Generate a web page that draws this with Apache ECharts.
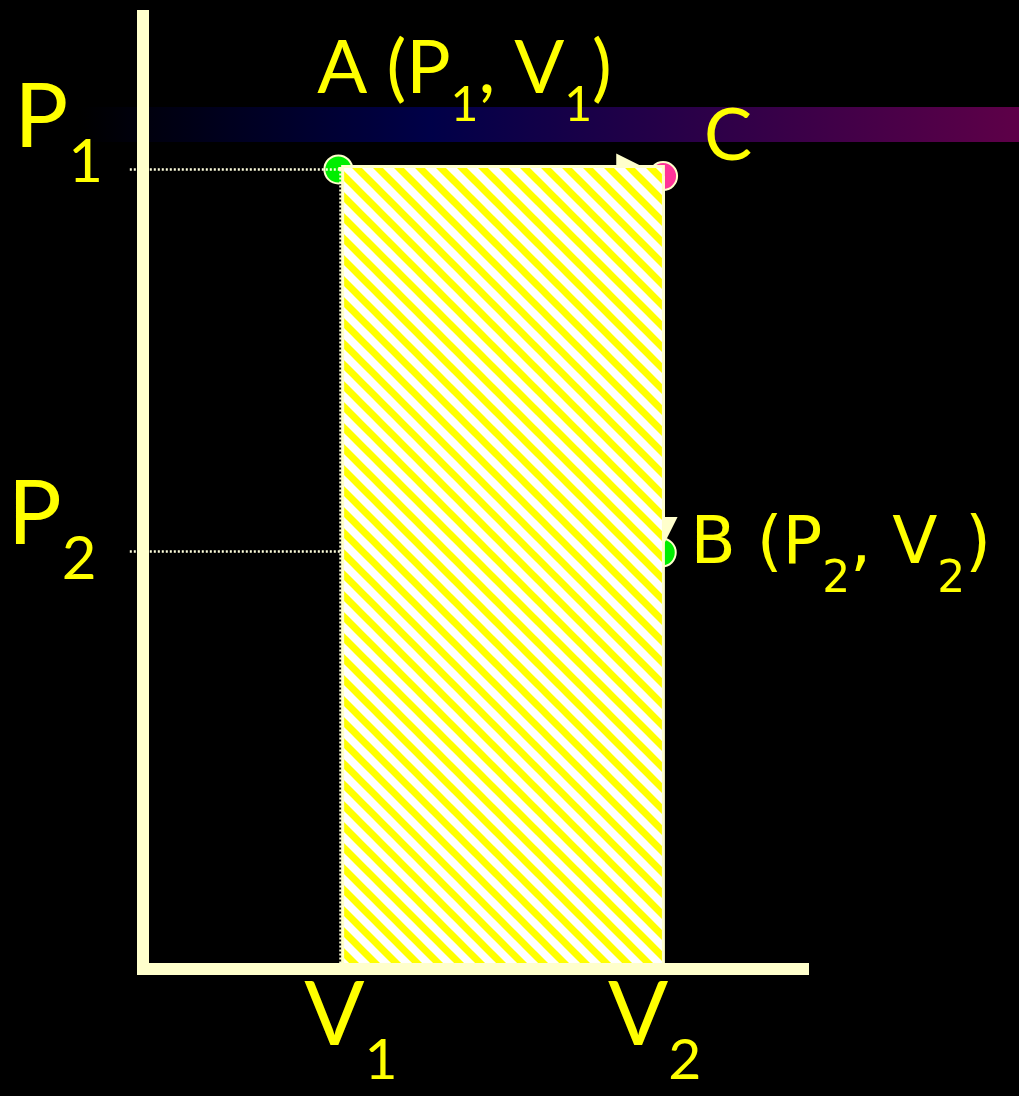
<!DOCTYPE html>
<html>
<head>
<meta charset="utf-8">
<style>
html, body { margin: 0; padding: 0; background: #000; }
#main { width: 1019px; height: 1096px; }
</style>
<script src="https://cdn.jsdelivr.net/npm/echarts@6/dist/echarts.min.js"></script>
</head>
<body>
<div id="main"></div>
<script>
// axis ticks: volume (V1, V2) and pressure (P1, P2)
var volTicks = [30, 78.8];
var volNames = ['V_1', 'V_2'];
var presTicks = [83.9, 43.8];
var presNames = ['P_1', 'P_2'];

// gas states
var pointNames = ['A (P_1, V_1)', 'C', 'B (P_2, V_2)'];
var pointV = [29.6, 78.8, 78.6];
var pointP = [83.9, 83.2, 43.7];

// hatched work area
var areaV = [30.25, 78.85];
var areaP = [0, 84.2];

// process arrows A -> C, C -> B
var arrowFrom = [[29.6, 84.05], [78.8, 83.2]];
var arrowTo = [[73.9, 84.05], [78.8, 45.9]];

// dotted guide lines
var guideFrom = [[-2, 83.9], [-2, 43.8], [29.85, 83.9]];
var guideTo = [[29.85, 83.9], [29.85, 43.8], [29.85, 0]];

var yellow = '#ffff00';
var cream = '#ffffcc';

// 'P_1' -> {km|P}{ks|1}
function richText(str, key) {
    var parts = str.split(/_(\d)/);
    var out = '';
    for (var i = 0; i < parts.length; i++) {
        if (!parts[i]) continue;
        out += '{' + key + (i % 2 ? 's' : 'm') + '|' + parts[i] + '}';
    }
    return out;
}
function txt(size, pad, font) {
    return {fontFamily: font || 'Lato', fontSize: size, lineHeight: size, color: yellow,
        verticalAlign: 'top', padding: pad || [0, 0, 0, 0]};
}
// empty token that only sets the height of the line
function spacer(h) {
    return {fontSize: 1, lineHeight: h, verticalAlign: 'top', color: 'transparent'};
}
function nearest(arr, v) {
    var best = 0;
    for (var i = 1; i < arr.length; i++) {
        if (Math.abs(arr[i] - v) < Math.abs(arr[best] - v)) best = i;
    }
    return best;
}

var rich = {
    am: txt(74), as: txt(48, [49, 0, 0, 0]),
    cm: txt(72),
    bm: txt(66, null, 'DejaVu Sans'), bs: txt(44, [45.6, 0, 0, 0], 'DejaVu Sans'),
    v0m: txt(89, [0, 0, 0, 20]), v0s: txt(57, [60.4, 0, 0, 0]),
    v1m: txt(89), v1s: txt(57, [60.4, 17, 0, 0]),
    p0x: spacer(192.4), p0m: txt(90), p0s: txt(60, [59.6, 0, 0, 0]),
    p1x: spacer(162.8), p1m: txt(90), p1s: txt(60, [59.6, 6.5, 0, 0])
};

// diagonal stripes for the work area
var stripes = document.createElement('canvas');
stripes.width = 21;
stripes.height = 21;
var g = stripes.getContext('2d');
g.fillStyle = '#ffffff';
g.fillRect(0, 0, 21, 21);
g.strokeStyle = yellow;
g.lineWidth = 7;
for (var c = -21; c <= 21; c += 21) {
    g.beginPath();
    g.moveTo(-21, c - 21);
    g.lineTo(42, c + 42);
    g.stroke();
}

var labelKeys = ['a', 'c', 'b'];
var labelOffsets = [[-21, -100], [41, -39], [28.7, -7]];
var pointColors = ['#00ee00', '#ff3399', '#00ee00'];

var chart = echarts.init(document.getElementById('main'));
chart.setOption({
    backgroundColor: '#000',
    animation: false,
    grid: {left: 143, right: 216, top: 16, bottom: 127, outerBoundsMode: 'none'},
    graphic: [{
        type: 'rect', z: 0, silent: true,
        shape: {x: 80, y: 107, width: 939, height: 35},
        style: {
            fill: new echarts.graphic.LinearGradient(0, 0, 1, 0, [
                {offset: 0, color: '#000000'},
                {offset: 0.373, color: '#000048'},
                {offset: 1, color: '#5e0048'}
            ])
        }
    }],
    xAxis: {
        type: 'value', min: 0, max: 100, z: 30,
        axisLine: {show: true, onZero: false, lineStyle: {color: cream, width: 12, cap: 'square'}},
        axisTick: {show: false},
        splitLine: {show: false},
        axisLabel: {
            customValues: volTicks, margin: 3, rich: rich,
            formatter: function (v) {
                var i = nearest(volTicks, v);
                return richText(volNames[i], 'v' + i);
            }
        }
    },
    yAxis: {
        type: 'value', min: 0, max: 100, z: 30,
        axisLine: {show: true, onZero: false, lineStyle: {color: cream, width: 12, cap: 'square'}},
        axisTick: {show: false},
        splitLine: {show: false},
        axisLabel: {
            customValues: presTicks, margin: 40, rich: rich,
            formatter: function (v) {
                var i = nearest(presTicks, v);
                return '{p' + i + 'x| }' + richText(presNames[i], 'p' + i);
            }
        }
    },
    series: [
        {
            type: 'scatter', z: 5, symbolSize: 28, silent: true,
            itemStyle: {borderColor: cream, borderWidth: 2, opacity: 1},
            label: {
                show: true, position: 'inside', align: 'left', verticalAlign: 'middle', rich: rich,
                formatter: function (p) {
                    return richText(pointNames[p.dataIndex], labelKeys[p.dataIndex]);
                }
            },
            data: pointV.map(function (v, i) {
                return {
                    value: [v, pointP[i]],
                    itemStyle: {color: pointColors[i]},
                    label: {offset: labelOffsets[i]}
                };
            })
        },
        {
            type: 'lines', coordinateSystem: 'cartesian2d', z: 6, clip: false, silent: true,
            symbol: ['none', 'none'],
            lineStyle: {color: '#ffffdd', width: 2.5, type: [2, 2], opacity: 1},
            data: guideFrom.map(function (f, i) { return {coords: [f, guideTo[i]]}; })
        },
        {
            type: 'lines', coordinateSystem: 'cartesian2d', z: 7, clip: false, silent: true,
            symbol: ['none', 'triangle'], symbolSize: 29,
            lineStyle: {color: cream, width: 3, opacity: 1},
            data: arrowFrom.map(function (f, i) { return {coords: [f, arrowTo[i]]}; })
        },
        {
            type: 'custom', coordinateSystem: 'cartesian2d', z: 10, silent: true,
            data: [[areaV[0], areaP[1], areaV[1], areaP[0]]],
            encode: {x: [0, 2], y: [1, 3]},
            renderItem: function (params, api) {
                var tl = api.coord([api.value(0), api.value(1)]);
                var br = api.coord([api.value(2), api.value(3)]);
                return {
                    type: 'rect',
                    shape: {x: tl[0], y: tl[1], width: br[0] - tl[0], height: br[1] - tl[1]},
                    style: {fill: {image: stripes, repeat: 'repeat'}, stroke: cream, lineWidth: 3}
                };
            }
        }
    ]
});
</script>
</body>
</html>
